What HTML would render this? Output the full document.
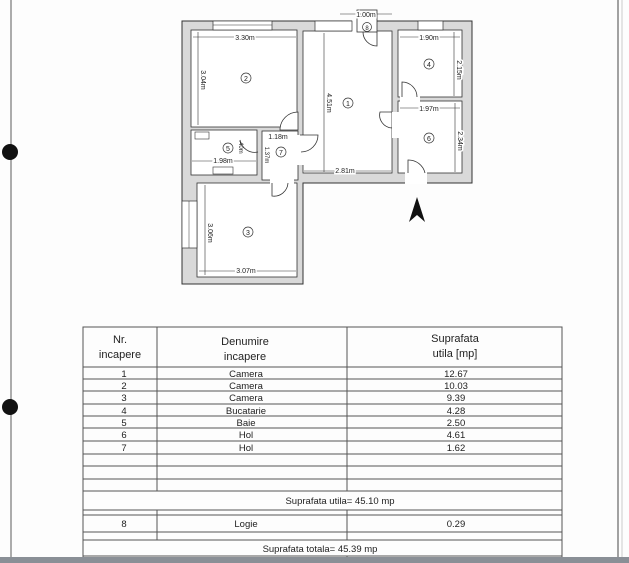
<!DOCTYPE html>
<html><head><meta charset="utf-8"><style>
html,body{margin:0;padding:0;background:#fff;width:629px;height:563px;overflow:hidden}
svg{display:block}
text{font-family:"Liberation Sans",sans-serif;fill:#222}
</style></head><body>
<svg width="629" height="563" viewBox="0 0 629 563" xmlns="http://www.w3.org/2000/svg">
<rect width="629" height="563" fill="#fdfdfd"/>
<!-- page edges -->
<line x1="11" y1="0" x2="11" y2="563" stroke="#777" stroke-width="1.2"/>
<circle cx="10" cy="152" r="8" fill="#111"/>
<circle cx="10" cy="407" r="8" fill="#111"/>
<line x1="618" y1="0" x2="618" y2="563" stroke="#666" stroke-width="1.2"/>
<line x1="622" y1="0" x2="622" y2="563" stroke="#ccc" stroke-width="1"/>

<!-- floor plan walls -->
<polygon points="182,21 472,21 472,183 303,183 303,284 182,284" fill="#d9d9d9" stroke="#333" stroke-width="1"/>
<g fill="#fff" stroke="#333" stroke-width="0.8">
<rect x="191" y="30" width="106" height="97"/>
<rect x="303" y="31" width="89" height="142"/>
<rect x="398" y="30" width="64" height="67"/>
<rect x="398" y="101" width="64" height="72"/>
<rect x="191" y="130" width="66" height="45"/>
<rect x="262" y="131" width="36" height="49"/>
<rect x="197" y="183" width="100" height="94"/>
</g>
<!-- openings between hol7 and room1 -->
<rect x="296" y="135" width="8" height="30" fill="#fff"/>
<rect x="270" y="176" width="24" height="10" fill="#fff"/>
<rect x="392" y="112" width="7" height="26" fill="#fff"/>
<rect x="400" y="95" width="20" height="8" fill="#fff"/>
<rect x="405" y="172" width="22" height="12" fill="#fff"/>
<rect x="352" y="19" width="25" height="13" fill="#fff"/>
<!-- windows -->
<g fill="#fff" stroke="#333" stroke-width="0.7">
<rect x="213" y="21" width="59" height="9"/>
<rect x="315" y="21" width="37" height="10"/>
<rect x="418" y="21" width="25" height="9"/>
<rect x="182" y="201" width="15" height="47"/>
</g>
<line x1="213" y1="25" x2="272" y2="25" stroke="#333" stroke-width="0.5"/>
<line x1="189" y1="201" x2="189" y2="248" stroke="#333" stroke-width="0.5"/>
<!-- door 8 box -->
<rect x="357" y="10" width="20" height="22" fill="#fff" stroke="#333" stroke-width="0.8"/>
<!-- doors (arcs) -->
<g fill="none" stroke="#333" stroke-width="0.8">
<path d="M377,32 L377,46 A14,14 0 0 1 363,32"/>
<path d="M298,130 L298,112 A18,18 0 0 0 280,130 Z" fill="#fff"/>
<path d="M300,135 L318,135 A17,17 0 0 1 301,152"/>
<path d="M272,183 L272,196 A14,14 0 0 0 288,183"/>
<path d="M392,112 L380,112 A13,13 0 0 0 392,128"/>
<path d="M402,97 L402,82 A15,15 0 0 1 417,97"/>
<path d="M408,173 L408,160 A17,17 0 0 1 425,173"/>
<path d="M240,140 A15,15 0 0 0 258,152"/>
</g>
<!-- hatched fixtures -->
<rect x="195" y="132" width="14" height="7" fill="#fff" stroke="#333" stroke-width="0.6"/>
<rect x="213" y="167" width="20" height="7" fill="#fff" stroke="#333" stroke-width="0.6"/>
<!-- dimension lines -->
<g stroke="#333" stroke-width="0.6">
<line x1="193" y1="37" x2="296" y2="37"/>
<line x1="198" y1="32" x2="198" y2="125"/>
<line x1="324" y1="33" x2="324" y2="172"/>
<line x1="304" y1="171" x2="391" y2="171"/>
<line x1="400" y1="37" x2="460" y2="37"/>
<line x1="454" y1="32" x2="454" y2="96"/>
<line x1="400" y1="108" x2="460" y2="108"/>
<line x1="455" y1="103" x2="455" y2="172"/>
<line x1="192" y1="161" x2="256" y2="161"/>
<line x1="205" y1="185" x2="205" y2="275"/>
<line x1="199" y1="271" x2="296" y2="271"/>
<line x1="340" y1="14" x2="392" y2="14"/>
</g>
<!-- north arrow -->
<polygon points="417,197 409,222 417,215 425,222" fill="#111"/>
<!-- labels -->
<g font-size="7">
<text x="245" y="40" text-anchor="middle" style="paint-order:stroke" stroke="#fff" stroke-width="3">3.30m</text>
<text x="429" y="40" text-anchor="middle" style="paint-order:stroke" stroke="#fff" stroke-width="3">1.90m</text>
<text x="429" y="111" text-anchor="middle" style="paint-order:stroke" stroke="#fff" stroke-width="3">1.97m</text>
<text x="345" y="173" text-anchor="middle" style="paint-order:stroke" stroke="#fff" stroke-width="3">2.81m</text>
<text x="223" y="163" text-anchor="middle" style="paint-order:stroke" stroke="#fff" stroke-width="3">1.98m</text>
<text x="246" y="273" text-anchor="middle" style="paint-order:stroke" stroke="#fff" stroke-width="3">3.07m</text>
<text x="278" y="139" text-anchor="middle" style="paint-order:stroke" stroke="#fff" stroke-width="3">1.18m</text>
<text x="366" y="17" text-anchor="middle" style="paint-order:stroke" stroke="#fff" stroke-width="3">1.00m</text>
<text transform="translate(201,80) rotate(90)" text-anchor="middle" style="paint-order:stroke" stroke="#fff" stroke-width="3">3.04m</text>
<text transform="translate(327,103) rotate(90)" text-anchor="middle" style="paint-order:stroke" stroke="#fff" stroke-width="3">4.51m</text>
<text transform="translate(457,70) rotate(90)" text-anchor="middle" style="paint-order:stroke" stroke="#fff" stroke-width="3">2.15m</text>
<text transform="translate(458,141) rotate(90)" text-anchor="middle" style="paint-order:stroke" stroke="#fff" stroke-width="3">2.34m</text>
<text transform="translate(208,233) rotate(90)" text-anchor="middle" style="paint-order:stroke" stroke="#fff" stroke-width="3">3.06m</text>
<text transform="translate(239,147) rotate(90)" text-anchor="middle" font-size="6">.40m</text>
<text transform="translate(265,155) rotate(90)" text-anchor="middle" font-size="6">1.37m</text>
</g>
<g font-size="9" text-anchor="middle">
<circle cx="246" cy="78" r="5" fill="none" stroke="#333" stroke-width="0.7"/><text x="246" y="81" font-size="7">2</text>
<circle cx="348" cy="103" r="5" fill="none" stroke="#333" stroke-width="0.7"/><text x="348" y="106" font-size="7">1</text>
<circle cx="429" cy="64" r="5" fill="none" stroke="#333" stroke-width="0.7"/><text x="429" y="67" font-size="7">4</text>
<circle cx="429" cy="138" r="5" fill="none" stroke="#333" stroke-width="0.7"/><text x="429" y="141" font-size="7">6</text>
<circle cx="228" cy="148" r="5" fill="none" stroke="#333" stroke-width="0.7"/><text x="228" y="151" font-size="7">5</text>
<circle cx="281" cy="152" r="5" fill="none" stroke="#333" stroke-width="0.7"/><text x="281" y="155" font-size="7">7</text>
<circle cx="248" cy="232" r="5" fill="none" stroke="#333" stroke-width="0.7"/><text x="248" y="235" font-size="7">3</text>
<circle cx="367" cy="27" r="4.5" fill="none" stroke="#333" stroke-width="0.7"/><text x="367" y="30" font-size="6">8</text>
</g>

<!-- table -->
<g stroke="#555" stroke-width="1" fill="none">
<rect x="83" y="327" width="479" height="240"/>
<line x1="83" y1="367" x2="562" y2="367"/>
<line x1="83" y1="379" x2="562" y2="379"/>
<line x1="83" y1="391" x2="562" y2="391"/>
<line x1="83" y1="404" x2="562" y2="404"/>
<line x1="83" y1="416" x2="562" y2="416"/>
<line x1="83" y1="428" x2="562" y2="428"/>
<line x1="83" y1="441" x2="562" y2="441"/>
<line x1="83" y1="454" x2="562" y2="454"/>
<line x1="83" y1="466" x2="562" y2="466"/>
<line x1="83" y1="479" x2="562" y2="479"/>
<line x1="83" y1="491" x2="562" y2="491"/>
<line x1="83" y1="510" x2="562" y2="510"/>
<line x1="83" y1="515" x2="562" y2="515"/>
<line x1="83" y1="532" x2="562" y2="532"/>
<line x1="83" y1="540" x2="562" y2="540"/>
<line x1="83" y1="556" x2="562" y2="556"/>
<line x1="157" y1="327" x2="157" y2="491"/>
<line x1="347" y1="327" x2="347" y2="491"/>
<line x1="157" y1="510" x2="157" y2="540"/>
<line x1="347" y1="510" x2="347" y2="540"/>
<line x1="347" y1="556" x2="347" y2="563"/>
</g>
<g font-size="11" text-anchor="middle">
<text x="120" y="343">Nr.</text>
<text x="120" y="358">incapere</text>
<text x="245" y="345">Denumire</text>
<text x="245" y="360">incapere</text>
<text x="455" y="342">Suprafata</text>
<text x="455" y="357">utila [mp]</text>
</g>
<g font-size="9.5" text-anchor="middle">
<text x="124" y="377">1</text><text x="246" y="377">Camera</text><text x="456" y="377">12.67</text>
<text x="124" y="389">2</text><text x="246" y="389">Camera</text><text x="456" y="389">10.03</text>
<text x="124" y="401">3</text><text x="246" y="401">Camera</text><text x="456" y="401">9.39</text>
<text x="124" y="414">4</text><text x="246" y="414">Bucatarie</text><text x="456" y="414">4.28</text>
<text x="124" y="426">5</text><text x="246" y="426">Baie</text><text x="456" y="426">2.50</text>
<text x="124" y="438">6</text><text x="246" y="438">Hol</text><text x="456" y="438">4.61</text>
<text x="124" y="451">7</text><text x="246" y="451">Hol</text><text x="456" y="451">1.62</text>
<text x="124" y="527">8</text><text x="246" y="527">Logie</text><text x="456" y="527">0.29</text>
</g>
<text x="340" y="504" font-size="9.5" text-anchor="middle">Suprafata utila=  45.10 mp</text>
<text x="320" y="552" font-size="9.5" text-anchor="middle">Suprafata totala=   45.39 mp</text>
<rect x="0" y="557" width="629" height="6" fill="#8a8f96"/>
</svg>
</body></html>
